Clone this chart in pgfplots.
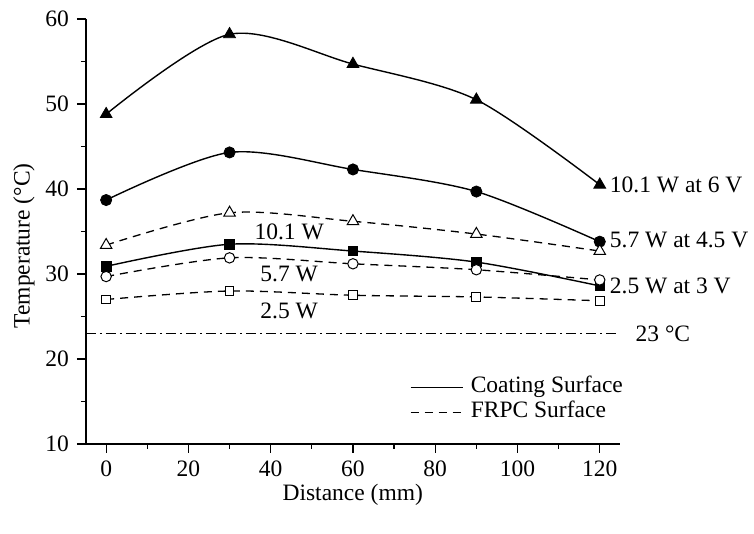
\documentclass[border=0pt]{standalone}
\usepackage{pgfplots}
\pgfplotsset{compat=1.18}
\usepackage{fontspec}
\setmainfont{Liberation Serif}
\begin{document}
\fontsize{23.5}{28}\selectfont
\begin{tikzpicture}
\useasboundingbox (-86pt,-90pt) rectangle (668pt,444pt);
\begin{axis}[
  at={(0pt,0pt)}, anchor=south west,
  scale only axis, width=533.5pt, height=425pt,
  xmin=-4.9, xmax=124.8, ymin=10, ymax=60,
  axis x line*=bottom, axis y line*=left,
  axis line style={line width=1.2pt},
  xtick={0,20,...,120}, ytick={10,20,...,60},
  minor x tick num=1, minor y tick num=1,
  tick align=outside,
  major tick length=9pt, minor tick length=5pt,
  every tick/.style={line width=1.2pt, black},
  /pgf/number format/assume math mode=true,
  xlabel={Distance (mm)}, ylabel={Temperature (°C)},
  xlabel style={at={(axis description cs:0.5,-0.12)}, anchor=center},
  ylabel style={at={(axis description cs:-0.1164,0.466)}, anchor=center},
  clip=false,
  legend cell align=left,
  legend image code/.code={\draw[#1] (0pt,0pt) -- (52pt,0pt);},
  legend style={draw=none, fill=none, inner sep=0pt, row sep=1pt, column sep=7pt,
    at={(axis cs:73.8,18.1)}, anchor=north west,
    nodes={inner sep=0.5pt, text height=17pt, text depth=6pt, anchor=west}},
]
% Coating surface
\addplot[forget plot, black, line width=1.4pt, smooth, mark=triangle*, mark size=6.8pt, mark options={solid, line width=0.8pt}]
  coordinates {(0,48.8) (30,58.2) (60,54.7) (90,50.5) (120,40.5)};
\addplot[forget plot, black, line width=1.4pt, smooth, mark=*, mark size=5.6pt, mark options={solid, line width=0.8pt}]
  coordinates {(0,38.7) (30,44.3) (60,42.3) (90,39.7) (120,33.8)};
\addplot[forget plot, black, line width=1.4pt, smooth, mark=square*, mark size=4.8pt, mark options={solid, line width=0.8pt}]
  coordinates {(0,30.9) (30,33.5) (60,32.7) (90,31.4) (120,28.6)};
% FRPC surface
\addplot[forget plot, black, line width=1.3pt, smooth, dash pattern=on 8pt off 6pt, mark=triangle*, mark size=6.6pt, mark options={solid, fill=white, line width=1pt}]
  coordinates {(0,33.4) (30,37.2) (60,36.2) (90,34.7) (120,32.7)};
\addplot[forget plot, black, line width=1.3pt, smooth, dash pattern=on 8pt off 6pt, mark=*, mark size=5.2pt, mark options={solid, fill=white, line width=1pt}]
  coordinates {(0,29.7) (30,31.9) (60,31.2) (90,30.5) (120,29.3)};
\addplot[forget plot, black, line width=1.3pt, smooth, dash pattern=on 8pt off 6pt, mark=square*, mark size=4.4pt, mark options={solid, fill=white, line width=1pt}]
  coordinates {(0,27.0) (30,28.0) (60,27.5) (90,27.3) (120,26.85)};
% ambient
\addplot[forget plot, black, line width=1.1pt, dash pattern=on 10pt off 4pt on 2pt off 4pt]
  coordinates {(-4.9,23) (124.8,23)};
\addlegendimage{black, line width=1.4pt}
\addlegendentry{Coating Surface}
\addlegendimage{black, line width=1.3pt, dash pattern=on 8pt off 6pt}
\addlegendentry{FRPC Surface}
\node[anchor=west, inner sep=0pt, xshift=10pt] at (axis cs:120,40.5) {10.1 W at 6 V};
\node[anchor=west, inner sep=0pt, xshift=10pt, yshift=2pt] at (axis cs:120,33.8) {5.7 W at 4.5 V};
\node[anchor=west, inner sep=0pt, xshift=10pt] at (axis cs:120,28.6) {2.5 W at 3 V};
\node[anchor=west, inner sep=0pt, xshift=16pt] at (axis cs:124.8,23) {23 °C};
\node[inner sep=0pt] at (axis cs:44.5,34.9) {10.1 W};
\node[inner sep=0pt] at (axis cs:44.5,30.0) {5.7 W};
\node[inner sep=0pt] at (axis cs:44.5,25.6) {2.5 W};
\end{axis}
\end{tikzpicture}
\end{document}
